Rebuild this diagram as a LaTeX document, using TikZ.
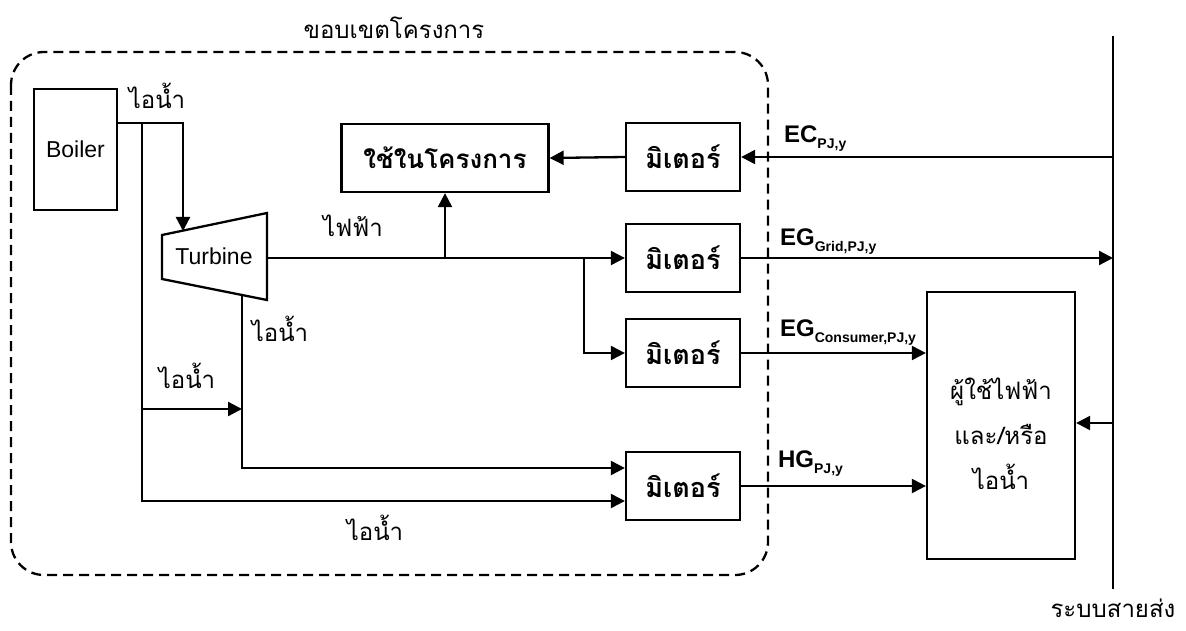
\documentclass[tikz,border=0pt]{standalone}
\usepackage{fontspec}
\setmainfont{Liberation Sans}
\newfontfamily\thai[Script=Thai]{Loma}
\usetikzlibrary{arrows.meta}
\newcommand{\qtysub}[2]{#1\raisebox{-6pt}{\fontsize{14}{16}\selectfont #2}}

\begin{document}
\begin{tikzpicture}[
    x=1pt, y=-1pt,
    line width=2.3pt,
    arr/.style={-{Triangle[length=14pt,width=14pt]}},
    box/.style={draw, line width=2.3pt, inner sep=0pt},
    meterbox/.style={box, minimum width=114pt, minimum height=68pt, font=\thai\bfseries\fontsize{27}{30}\selectfont},
    thaitxt/.style={font=\thai\fontsize{24}{28}\selectfont},
    qty/.style={anchor=base west, inner sep=0pt, font=\bfseries\fontsize{24}{28}\selectfont}
]
    \useasboundingbox (0,0) rectangle (1186,631);

    % Project boundary
    \draw[line width=2.3pt, dash pattern=on 10pt off 6pt, rounded corners=33pt] (11,52) rectangle (768,575);
    \node[thaitxt] (scope) at (394,28) {ขอบเขตโครงการ};

    % Boiler and turbine
    \node[box, minimum width=83pt, minimum height=121pt, font=\fontsize{23}{26}\selectfont] (boiler) at (75.5,149.5) {Boiler};
    \draw[line width=2.3pt] (162,235) -- (267,213) -- (267,300) -- (162,279) -- cycle;
    \node[font=\fontsize{23}{26}\selectfont] (turbine) at (214,256) {Turbine};
    \coordinate (tbIn) at (183,231);
    \coordinate (tbOut) at (242,295);
    \coordinate (tbE) at (267,258);

    % Loads and meters
    \node[box, minimum width=207pt, minimum height=68pt, font=\thai\bfseries\fontsize{26}{30}\selectfont] (use) at (445,158) {ใช้ในโครงการ};
    \node[meterbox] (m0) at (683,157) {มิเตอร์};
    \node[meterbox] (m1) at (683,258) {มิเตอร์};
    \node[meterbox] (m2) at (683,353) {มิเตอร์};
    \node[meterbox] (m3) at (683,486) {มิเตอร์};
    \node[box, minimum width=148pt, minimum height=267pt] (cons) at (1001,425.5) {};
    \node[thaitxt, align=center] (consTxt) at (1001,434) {ผู้ใช้ไฟฟ้า\\[17pt]และ/หรือ\\[17pt]ไอน้ำ};

    % Grid bus
    \coordinate (busTop) at (1113,36);
    \coordinate (busBot) at (1113,589);
    \draw (busTop) -- (busBot);
    \node[thaitxt, anchor=base, inner sep=0pt, text depth=0pt] (grid) at (1113,617) {ระบบสายส่ง};

    % Steam lines
    \coordinate (st0) at (117,123);
    \coordinate (stJ) at (142,123);
    \coordinate (stT) at (183,123);
    \draw[arr] (st0) -- (stT) -- (tbIn);
    \draw[arr] (stJ) -- (142,501) -- ([yshift=-15pt]m3.west);
    \draw[arr] (142,409) -- (242,409);
    \draw[arr] (tbOut) -- (242,468) -- ([yshift=18pt]m3.west);
    \node[thaitxt] (stLbl1) at (157,96) {ไอน้ำ};
    \node[thaitxt] (stLbl2) at (280,329) {ไอน้ำ};
    \node[thaitxt] (stLbl3) at (187,376) {ไอน้ำ};
    \node[thaitxt] (stLbl4) at (375,528) {ไอน้ำ};

    % Electricity lines
    \coordinate (elJ) at (584,258);
    \draw[arr] (tbE) -- (m1.west);
    \draw[arr] (use.south |- tbE) -- (use.south);
    \draw[arr] (elJ) -- (elJ |- m2.west) -- (m2.west);
    \draw[arr] (m0.west) -- (use.east);
    \node[thaitxt] (elLbl) at (353,226) {ไฟฟ้า};

    % Flows across the boundary
    \draw[arr] (busTop |- m0.east) -- (m0.east);
    \draw[arr] (m1.east) -- (busTop |- m1.east);
    \draw[arr] (m2.east) -- (cons.west |- m2.east);
    \draw[arr] (m3.east) -- (cons.west |- m3.east);
    \draw[arr] (busTop |- 0,423) -- (cons.east |- 0,423);
    \node[qty] (ec) at (783,143) {\qtysub{EC}{PJ,y}};
    \node[qty] (egGrid) at (779,245) {\qtysub{EG}{Grid,PJ,y}};
    \node[qty] (egCons) at (779,336) {\qtysub{EG}{Consumer,PJ,y}};
    \node[qty] (hg) at (777,467) {\qtysub{HG}{PJ,y}};
\end{tikzpicture}
\end{document}
